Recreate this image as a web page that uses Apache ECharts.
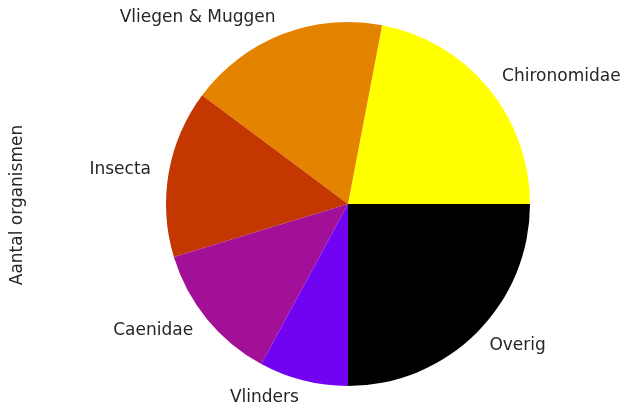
<!DOCTYPE html>
<html>
<head>
<meta charset="utf-8">
<script src="https://cdn.jsdelivr.net/npm/echarts@6/dist/echarts.min.js"></script>
<style>
  html, body { margin: 0; padding: 0; background: #fff; }
  #chart { width: 628px; height: 418px; }
</style>
</head>
<body>
<div id="chart"></div>
<script>
// slices, counterclockwise from 3 o'clock (matplotlib order)
const categories = ['Chironomidae', 'Vliegen & Muggen', 'Insecta', 'Caenidae', 'Vlinders', 'Overig'];
const values = [22.0, 17.8, 14.9, 12.4, 7.9, 25.0];
const colors = ['#ffff00', '#e48300', '#c53700', '#a11096', '#7202f2', '#000000'];
const yTitle = 'Aantal organismen';

const font = 'DejaVu Sans';

let chart = echarts.init(document.getElementById('chart'));

let seriesData = categories.map((name, i) => ({
  name: name,
  value: values[i],
  itemStyle: { color: colors[i] }
}));

let option = {
  animation: false,
  graphic: [{
    type: 'text',
    rotation: Math.PI / 2,
    style: {
      text: yTitle,
      font: '17px "' + font + '"',
      fill: '#262626',
      textAlign: 'center',
      textVerticalAlign: 'middle'
    },
    x: 18,
    y: 205
  }],
  series: [{
    type: 'pie',
    center: [348, 204],
    radius: [0, 182],
    startAngle: 0,
    clockwise: false,
    silent: true,
    avoidLabelOverlap: false,
    itemStyle: { borderWidth: 0 },
    label: {
      show: true,
      position: 'outside',
      distanceToLabelLine: 0,
      color: '#262626',
      fontFamily: font,
      fontSize: 17
    },
    labelLine: {
      show: false,
      length: 18,
      length2: 0
    },
    data: seriesData
  }]
};

chart.setOption(option);
</script>
</body>
</html>
